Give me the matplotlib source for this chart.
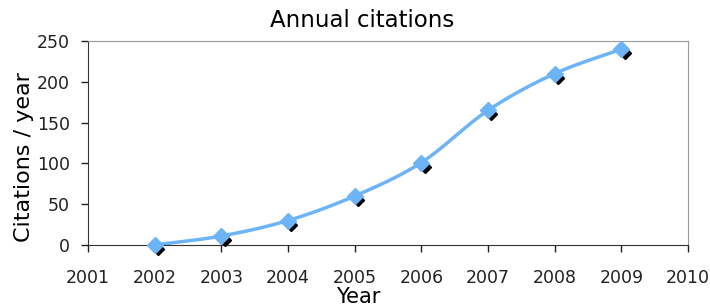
import matplotlib.pyplot as plt
import matplotlib.transforms as mtransforms
import numpy as np

# data
years = [2002, 2003, 2004, 2005, 2006, 2007, 2008, 2009]
citations = [0, 11, 30, 60, 101, 165, 210, 240]
xticks = list(range(2001, 2011))
yticks = [0, 50, 100, 150, 200, 250]


# smoothed line through the points (catmull-rom, like a spreadsheet "smooth line")
def smooth(x, y, n=30):
    x = np.asarray(x, float)
    y = np.asarray(y, float)
    px = np.concatenate([[2 * x[0] - x[1]], x, [2 * x[-1] - x[-2]]])
    py = np.concatenate([[2 * y[0] - y[1]], y, [2 * y[-1] - y[-2]]])
    t = np.linspace(0, 1, n)
    xs, ys = [], []
    for i in range(1, len(px) - 2):
        for p, out in ((px, xs), (py, ys)):
            p0, p1, p2, p3 = p[i - 1], p[i], p[i + 1], p[i + 2]
            out.extend(0.5 * (2 * p1 + (-p0 + p2) * t
                              + (2 * p0 - 5 * p1 + 4 * p2 - p3) * t ** 2
                              + (-p0 + 3 * p1 - 3 * p2 + p3) * t ** 3))
    return xs, ys


plt.rcParams['font.family'] = ['DejaVu Sans']

fig = plt.figure(figsize=(7.1, 3.06), dpi=100)
ax = fig.add_axes([88 / 710, 1 - 245 / 306, 600 / 710, 204 / 306])

sx, sy = smooth(years, citations)
ax.plot(sx, sy, color='#6cb4f5', lw=2.5, zorder=2)

# black shadow diamonds, shifted down-right
shadow = mtransforms.offset_copy(ax.transData, fig=fig, x=3.5, y=-4, units='dots')
ax.plot(years, citations, 'D', color='black', ms=6.5, transform=shadow, zorder=3,
        clip_on=False)
ax.plot(years, citations, 'D', color='#6cb4f5', ms=8, zorder=4, clip_on=False)

ax.set_xlim(2001, 2010)
ax.set_ylim(0, 250)
ax.set_xticks(xticks)
ax.set_yticks(yticks)
ax.tick_params(labelsize=12.5, colors='#222222', length=5, width=1)
ax.tick_params(axis='x', pad=12)
ax.tick_params(axis='y', pad=8)

for s in ['top', 'right']:
    ax.spines[s].set_color('#999999')
for s in ['left', 'bottom']:
    ax.spines[s].set_color('#333333')

ax.set_title('Annual citations', fontsize=16.5, x=0.457, pad=10)
ax.set_ylabel('Citations / year', fontsize=16, labelpad=2)
ax.yaxis.set_label_coords(-0.09, 0.43)
ax.set_xlabel('Year', fontsize=15, labelpad=0, x=0.45)

fig.savefig('out.png', dpi=100)
